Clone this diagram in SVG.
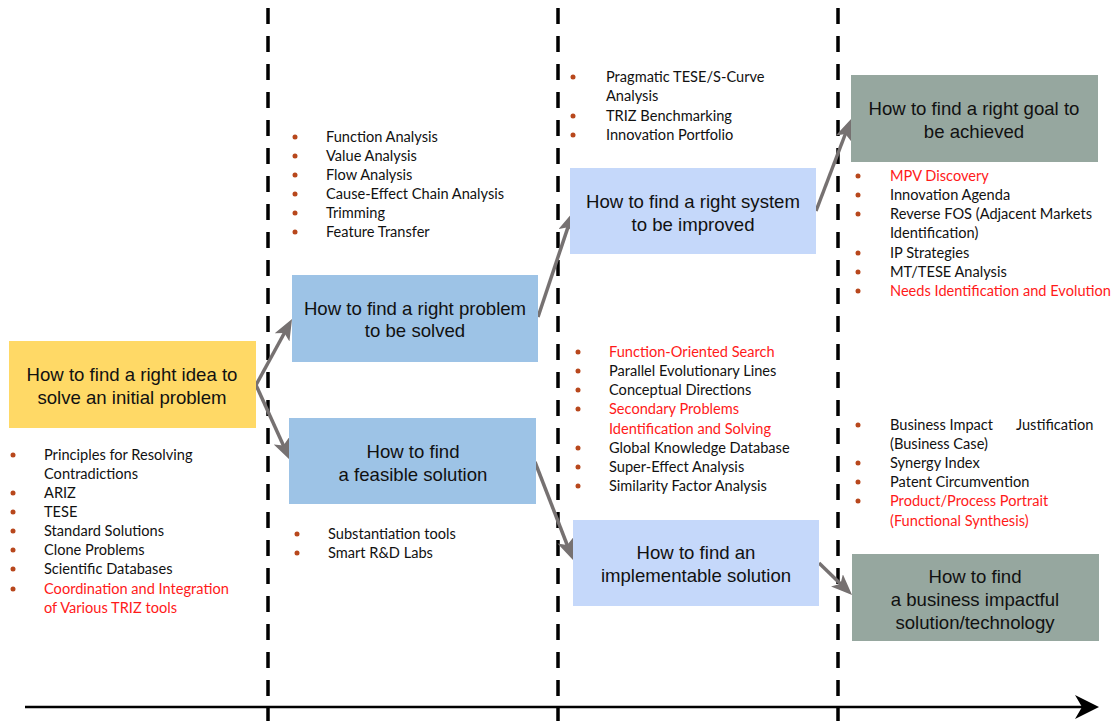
<svg xmlns="http://www.w3.org/2000/svg" width="1112" height="721" viewBox="0 0 1112 721">
  <style>
    .box-text { font-family: "Liberation Sans", Arial, sans-serif; font-size: 18.6px; fill: #111; text-anchor: middle; }
    .item { font-family: Lato, "Open Sans", sans-serif; font-size: 14.6px; fill: #111; }
    .hot { fill: #ff1a1a; }
    .dot { fill: #b8471c; }
    .divider { stroke: #000; stroke-width: 3.5; stroke-dasharray: 16 12; fill: none; }
    .flow { stroke: #767171; stroke-width: 3.5; fill: none; marker-end: url(#head); }
    .yellow { fill: #ffd966; }
    .blue { fill: #9dc3e6; }
    .pale { fill: #c5d8fa; }
    .sage { fill: #96a79f; }
  </style>
  <defs>
    <marker id="head" viewBox="0 0 21 17" markerWidth="21" markerHeight="17" refX="13" refY="8.5" orient="auto" markerUnits="userSpaceOnUse">
      <path d="M0,0 L21,8.5 L0,17 L5,8.5 z" fill="#767171"/>
    </marker>
    <marker id="axis-head" viewBox="0 0 24 24" markerWidth="24" markerHeight="24" refX="18" refY="12" orient="auto" markerUnits="userSpaceOnUse">
      <path d="M0,0 L24,12 L0,24 L7,12 z" fill="#000"/>
    </marker>
  </defs>

  <rect width="1112" height="721" fill="#fff"/>

  <!-- stage dividers and time axis -->
  <g id="axis">
    <line class="divider" x1="268" y1="8" x2="268" y2="721"/>
    <line class="divider" x1="558" y1="8" x2="558" y2="721"/>
    <line class="divider" x1="838" y1="8" x2="838" y2="721"/>
    <line x1="25" y1="707" x2="1093" y2="707" stroke="#000" stroke-width="2.5" marker-end="url(#axis-head)"/>
  </g>

  <!-- connectors between questions -->
  <g id="connectors">
    <path class="flow" d="M256,385 L288.2,326"/>
    <path class="flow" d="M256,385 L286.7,452.7"/>
    <path class="flow" d="M538,317 L570.5,219.6"/>
    <path class="flow" d="M535,462 L570.1,552.5"/>
    <path class="flow" d="M816,211 L848.2,126.5"/>
    <path class="flow" d="M819,563 L846.3,589.4"/>
  </g>

  <g id="node-idea">
    <rect class="yellow" x="9" y="341" width="247" height="87"/>
    <text class="box-text" x="132" y="381">How to find a right idea to</text>
    <text class="box-text" x="132" y="404">solve an initial problem</text>
  </g>

  <g id="node-problem">
    <rect class="blue" x="292" y="275" width="246" height="87"/>
    <text class="box-text" x="415" y="315">How to find a right problem</text>
    <text class="box-text" x="415" y="337">to be solved</text>
  </g>

  <g id="node-feasible">
    <rect class="blue" x="289" y="418" width="247" height="86"/>
    <text class="box-text" x="413" y="458">How to find</text>
    <text class="box-text" x="413" y="481">a feasible solution</text>
  </g>

  <g id="node-system">
    <rect class="pale" x="570" y="168" width="246" height="86"/>
    <text class="box-text" x="693" y="208">How to find a right system</text>
    <text class="box-text" x="693" y="231">to be improved</text>
  </g>

  <g id="node-implementable">
    <rect class="pale" x="573" y="520" width="246" height="86"/>
    <text class="box-text" x="696" y="559">How to find an</text>
    <text class="box-text" x="696" y="582">implementable solution</text>
  </g>

  <g id="node-goal">
    <rect class="sage" x="851" y="75" width="247" height="87"/>
    <text class="box-text" x="974" y="115">How to find a right goal to</text>
    <text class="box-text" x="974" y="138">be achieved</text>
  </g>

  <g id="node-business">
    <rect class="sage" x="852" y="554" width="247" height="87"/>
    <text class="box-text" x="975" y="583">How to find</text>
    <text class="box-text" x="975" y="606">a business impactful</text>
    <text class="box-text" x="975" y="629">solution/technology</text>
  </g>

  <!-- tools for the idea stage -->
  <g id="list-idea">
    <circle class="dot" cx="13" cy="455" r="2.5"/>
    <circle class="dot" cx="13" cy="493" r="2.5"/>
    <circle class="dot" cx="13" cy="512" r="2.5"/>
    <circle class="dot" cx="13" cy="531" r="2.5"/>
    <circle class="dot" cx="13" cy="550" r="2.5"/>
    <circle class="dot" cx="13" cy="569" r="2.5"/>
    <circle class="dot" cx="13" cy="589" r="2.5"/>
    <text class="item" x="44" y="460">Principles for Resolving</text>
    <text class="item" x="44" y="479">Contradictions</text>
    <text class="item" x="44" y="498">ARIZ</text>
    <text class="item" x="44" y="517">TESE</text>
    <text class="item" x="44" y="536">Standard Solutions</text>
    <text class="item" x="44" y="555">Clone Problems</text>
    <text class="item" x="44" y="574">Scientific Databases</text>
    <text class="item hot" x="44" y="594">Coordination and Integration</text>
    <text class="item hot" x="44" y="613">of Various TRIZ tools</text>
  </g>

  <!-- tools for the problem stage -->
  <g id="list-problem">
    <circle class="dot" cx="295" cy="137" r="2.5"/>
    <circle class="dot" cx="295" cy="156" r="2.5"/>
    <circle class="dot" cx="295" cy="175" r="2.5"/>
    <circle class="dot" cx="295" cy="194" r="2.5"/>
    <circle class="dot" cx="295" cy="213" r="2.5"/>
    <circle class="dot" cx="295" cy="232" r="2.5"/>
    <text class="item" x="326" y="142">Function Analysis</text>
    <text class="item" x="326" y="161">Value Analysis</text>
    <text class="item" x="326" y="180">Flow Analysis</text>
    <text class="item" x="326" y="199">Cause-Effect Chain Analysis</text>
    <text class="item" x="326" y="218">Trimming</text>
    <text class="item" x="326" y="237">Feature Transfer</text>
  </g>

  <!-- tools for the feasibility stage -->
  <g id="list-feasible">
    <circle class="dot" cx="297" cy="534" r="2.5"/>
    <circle class="dot" cx="297" cy="553" r="2.5"/>
    <text class="item" x="328" y="539">Substantiation tools</text>
    <text class="item" x="328" y="558">Smart R&amp;D Labs</text>
  </g>

  <!-- tools for the system stage -->
  <g id="list-system">
    <circle class="dot" cx="573" cy="77" r="2.5"/>
    <circle class="dot" cx="573" cy="116" r="2.5"/>
    <circle class="dot" cx="573" cy="135" r="2.5"/>
    <text class="item" x="606" y="82">Pragmatic TESE/S-Curve</text>
    <text class="item" x="606" y="101">Analysis</text>
    <text class="item" x="606" y="121">TRIZ Benchmarking</text>
    <text class="item" x="606" y="140">Innovation Portfolio</text>
  </g>

  <!-- tools for the implementation stage -->
  <g id="list-implementable">
    <circle class="dot" cx="578" cy="352" r="2.5"/>
    <circle class="dot" cx="578" cy="371" r="2.5"/>
    <circle class="dot" cx="578" cy="390" r="2.5"/>
    <circle class="dot" cx="578" cy="409" r="2.5"/>
    <circle class="dot" cx="578" cy="448" r="2.5"/>
    <circle class="dot" cx="578" cy="467" r="2.5"/>
    <circle class="dot" cx="578" cy="486" r="2.5"/>
    <text class="item hot" x="609" y="357">Function-Oriented Search</text>
    <text class="item" x="609" y="376">Parallel Evolutionary Lines</text>
    <text class="item" x="609" y="395">Conceptual Directions</text>
    <text class="item hot" x="609" y="414">Secondary Problems</text>
    <text class="item hot" x="609" y="434">Identification and Solving</text>
    <text class="item" x="609" y="453">Global Knowledge Database</text>
    <text class="item" x="609" y="472">Super-Effect Analysis</text>
    <text class="item" x="609" y="491">Similarity Factor Analysis</text>
  </g>

  <!-- tools for the goal stage -->
  <g id="list-goal">
    <circle class="dot" cx="858" cy="176" r="2.5"/>
    <circle class="dot" cx="858" cy="195" r="2.5"/>
    <circle class="dot" cx="858" cy="214" r="2.5"/>
    <circle class="dot" cx="858" cy="253" r="2.5"/>
    <circle class="dot" cx="858" cy="272" r="2.5"/>
    <circle class="dot" cx="858" cy="291" r="2.5"/>
    <text class="item hot" x="890" y="181">MPV Discovery</text>
    <text class="item" x="890" y="200">Innovation Agenda</text>
    <text class="item" x="890" y="219">Reverse FOS (Adjacent Markets</text>
    <text class="item" x="890" y="238">Identification)</text>
    <text class="item" x="890" y="258">IP Strategies</text>
    <text class="item" x="890" y="277">MT/TESE Analysis</text>
    <text class="item hot" x="890" y="296">Needs Identification and Evolution</text>
  </g>

  <!-- tools for the business stage -->
  <g id="list-business">
    <circle class="dot" cx="858" cy="425" r="2.5"/>
    <circle class="dot" cx="858" cy="463" r="2.5"/>
    <circle class="dot" cx="858" cy="482" r="2.5"/>
    <circle class="dot" cx="858" cy="501" r="2.5"/>
    <text class="item" x="890" y="430">Business Impact<tspan x="1016">Justification</tspan></text>
    <text class="item" x="890" y="449">(Business Case)</text>
    <text class="item" x="890" y="468">Synergy Index</text>
    <text class="item" x="890" y="487">Patent Circumvention</text>
    <text class="item hot" x="890" y="506">Product/Process Portrait</text>
    <text class="item hot" x="890" y="526">(Functional Synthesis)</text>
  </g>
</svg>
